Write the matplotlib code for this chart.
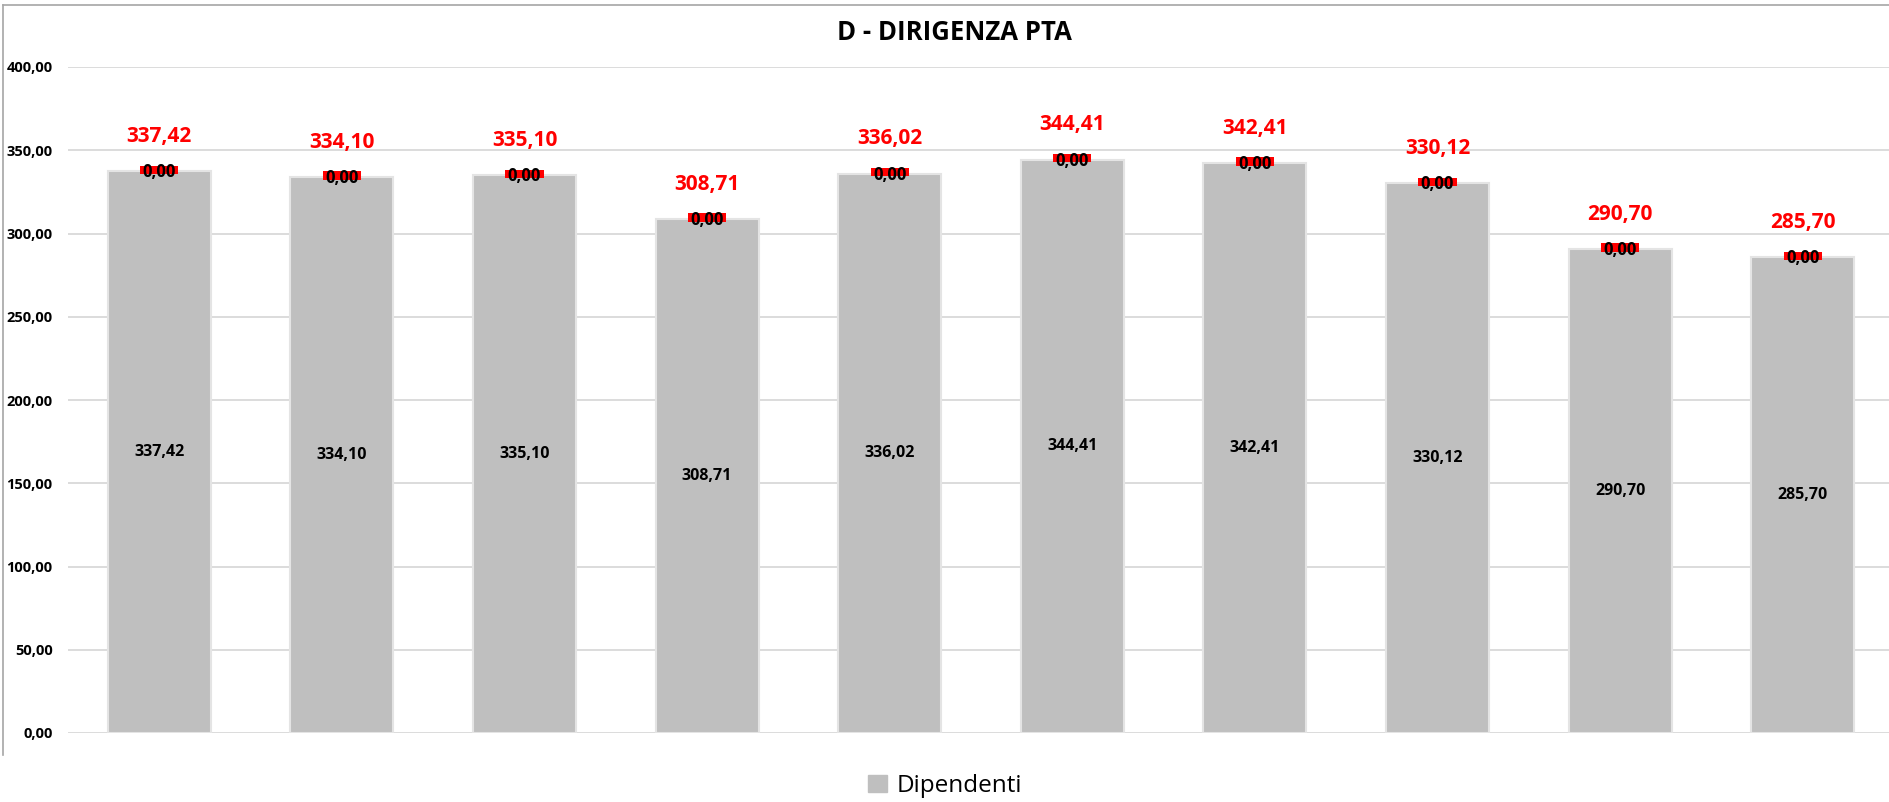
import matplotlib
matplotlib.use("Agg")
import matplotlib.pyplot as plt
import matplotlib.patches as mpatches
from matplotlib.lines import Line2D
from matplotlib.offsetbox import DrawingArea, AnnotationBbox

plt.rcParams['font.family'] = ['Open Sans', 'DejaVu Sans']

title = "D - DIRIGENZA PTA"
series_name = "Dipendenti"
positions = list(range(10))
dipendenti = [337.42, 334.10, 335.10, 308.71, 336.02, 344.41, 342.41, 330.12, 290.70, 285.70]
altri = [0.00] * 10
y_ticks = [0, 50, 100, 150, 200, 250, 300, 350, 400]

BAR_COLOR = '#bfbfbf'
GRID_COLOR = '#d9d9d9'


def fmt(v):
    return f"{v:.2f}".replace('.', ',')


fig = plt.figure(figsize=(18.89, 8.02), dpi=100)
ax = fig.add_axes([68 / 1889, 69 / 802, (1894 - 68) / 1889, 666 / 802])

ax.bar(positions, dipendenti, width=0.565, color=BAR_COLOR,
       edgecolor='#e4e4e4', linewidth=1.5, zorder=3)
ax.bar(positions, altri, bottom=dipendenti, width=0.565, color='red', zorder=3)

for x, v, z in zip(positions, dipendenti, altri):
    tot = v + z
    # value inside the bar
    ax.text(x, v / 2, fmt(v), ha='center', va='center', fontsize=11.5,
            fontweight='bold', color='black', zorder=5)
    # red label background of the zero series (thin strip)
    da = DrawingArea(27.5, 6, 0, 0)
    da.add_artist(mpatches.Rectangle((0, 0), 27.5, 6, facecolor='red', edgecolor='none'))
    ab = AnnotationBbox(da, (x, tot), xybox=(0, 1), xycoords='data',
                        boxcoords='offset points', frameon=False, pad=0)
    ab.set_zorder(5)
    ax.add_artist(ab)
    ax.annotate(fmt(z), (x, tot), xytext=(0, -0.8), textcoords='offset points',
                ha='center', va='center', fontsize=12, fontweight='bold',
                color='black', zorder=6)
    # total above
    ax.annotate(fmt(tot), (x, tot), xytext=(0, 25), textcoords='offset points',
                ha='center', va='center', fontsize=15, fontweight='bold',
                color='red', zorder=6)

ax.set_xlim(-0.5, 9.5)
ax.set_ylim(0, 400)
ax.set_yticks(y_ticks)
ax.set_yticklabels([fmt(t) for t in y_ticks], fontsize=10.5, fontweight='bold')
ax.set_xticks([])
ax.tick_params(axis='y', length=0, pad=11)
ax.grid(axis='y', color=GRID_COLOR, linewidth=1.3, zorder=0)
ax.set_axisbelow(True)
for s in ax.spines.values():
    s.set_visible(False)

fig.text(954 / 1889, 1 - 33 / 802, title, ha='center', va='center',
         fontsize=18.5, fontweight='bold', color='black')

# chart frame (left and top edges visible)
fig.add_artist(Line2D([3 / 1889, 3 / 1889], [1 - 755 / 802, 1 - 5 / 802],
                      transform=fig.transFigure, color='#a6a6a6', linewidth=1.2))
fig.add_artist(Line2D([3 / 1889, 1.0], [1 - 5 / 802, 1 - 5 / 802],
                      transform=fig.transFigure, color='#a6a6a6', linewidth=1.2))

handle = mpatches.Patch(color=BAR_COLOR, label=series_name)
fig.legend(handles=[handle], loc='center', bbox_to_anchor=(945 / 1889, 1 - 786 / 802),
           frameon=False, fontsize=17.5, handlelength=0.75, handleheight=0.75,
           handletextpad=0.4)

fig.savefig("out.png", dpi=100)
